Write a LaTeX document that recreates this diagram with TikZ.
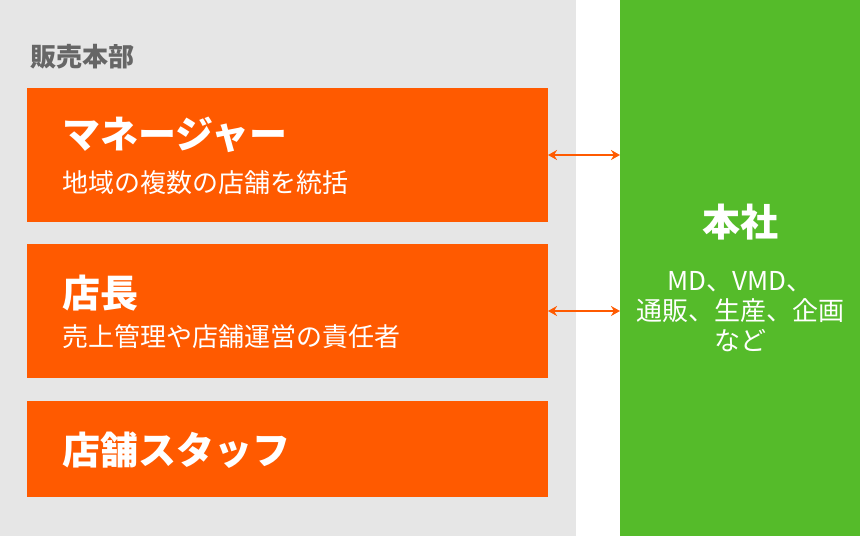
\documentclass[tikz,border=0pt]{standalone}
\usepackage{fontspec}
\setmainfont{Noto Sans CJK JP}
\usetikzlibrary{arrows.meta}
\definecolor{bggray}{HTML}{E6E6E6}
\definecolor{boxorange}{HTML}{FF5A00}
\definecolor{hqgreen}{HTML}{55BB2A}
\definecolor{titlegray}{HTML}{666666}
\tikzset{
  rolebox/.style={fill=boxorange,draw=none},
  rolehead/.style={anchor=west,text=white,font=\fontsize{38}{40}\selectfont\bfseries,inner sep=0pt},
  rolesub/.style={anchor=west,text=white,font=\fontsize{26}{28}\selectfont,inner sep=0pt},
  hqtext/.style={text=white,font=\fontsize{26}{30}\selectfont,inner sep=0pt,align=center},
  link/.style={{Stealth[length=9pt,width=10pt]}-{Stealth[length=9pt,width=10pt]},draw=boxorange,line width=2.5pt}
}
\begin{document}
\begin{tikzpicture}[x=1pt,y=-1pt]

\useasboundingbox (0,0) rectangle (860,536);
\fill[bggray] (0,0) rectangle (576,536);
\fill[hqgreen] (620,0) rectangle (860,536);

\node[anchor=west,text=titlegray,font=\fontsize{26}{28}\selectfont\bfseries,inner sep=0pt](dept) at (30,57) {販売本部};

\fill[rolebox] (27,88) rectangle (548,222);
\fill[rolebox] (27,244) rectangle (548,378);
\fill[rolebox] (27,401) rectangle (548,497);

\node[rolehead](mgr) at (62,135) {マネージャー};
\node[rolesub](mgrsub) at (62,183) {地域の複数の店舗を統括};
\node[rolehead](boss) at (62,293) {店長};
\node[rolesub](bosssub) at (62,337) {売上管理や店舗運営の責任者};
\node[rolehead](staff) at (62,450) {店舗スタッフ};

\coordinate (m1) at (548,155);
\coordinate (m2) at (620,155);
\coordinate (b1) at (548,311);
\coordinate (b2) at (620,311);

\node[hqtext,font=\fontsize{38}{40}\selectfont\bfseries](hq) at (740,222) {本社};
\node[hqtext](hqsub) at (740,312) {MD、VMD、\\通販、生産、企画\\など};

\draw[link] (m1) -- (m2);
\draw[link] (b1) -- (b2);

\end{tikzpicture}
\end{document}
